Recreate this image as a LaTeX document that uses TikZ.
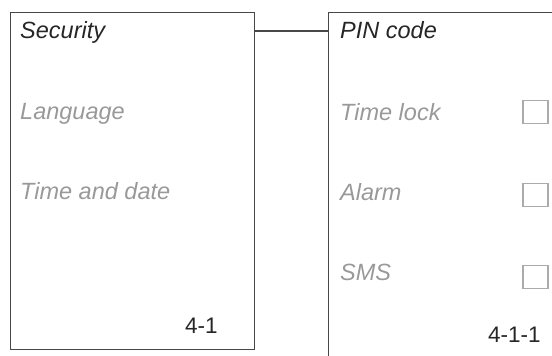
\documentclass[tikz,border=0pt]{standalone}
\usepackage{fontspec}
\setmainfont{Liberation Sans}
\begin{document}
\begin{tikzpicture}[x=1pt,y=-1pt,
  frame/.style={draw=black!72, line width=1.1pt, inner sep=0pt, anchor=north west},
  title/.style={anchor=base west, inner sep=0pt, text=black!85, font=\fontsize{23.5}{27}\selectfont\itshape},
  item/.style={anchor=base west, inner sep=0pt, text=black!40, font=\fontsize{23.5}{27}\selectfont\itshape},
  num/.style={anchor=base west, inner sep=0pt, text=black!85, font=\fontsize{22.5}{26}\selectfont},
  chk/.style={draw=black!33, line width=1.1pt, minimum width=25pt, minimum height=23pt, inner sep=0pt},
  conn/.style={draw=black!72, line width=1.1pt}]
\useasboundingbox (0,0) rectangle (552,356);
\clip (0,0) rectangle (552,356);
\node[frame, minimum width=244pt, minimum height=337pt] (lbox) at (10,12) {};
\node[frame, minimum width=250pt, minimum height=370pt] (rbox) at (328,12) {};
\draw[conn] ([yshift=-19pt]lbox.north east) -- ([yshift=-19pt]rbox.north west);
\node[title] (sec) at (20,38) {Security};
\node[item] (lang) at (20,119) {Language};
\node[item] (td) at (20,199) {Time and date};
\node[num] (n41) at (185,333) {4-1};
\node[title] (pin) at (340,38) {PIN code};
\node[item] (tl) at (340,120) {Time lock};
\node[item] (al) at (340,200) {Alarm};
\node[item] (sms) at (340,280) {SMS};
\node[num] (n411) at (488,342) {4-1-1};
\node[chk] (c1) at (535.5,112) {};
\node[chk] (c2) at (535.5,195) {};
\node[chk] (c3) at (535.5,277) {};
\end{tikzpicture}
\end{document}
